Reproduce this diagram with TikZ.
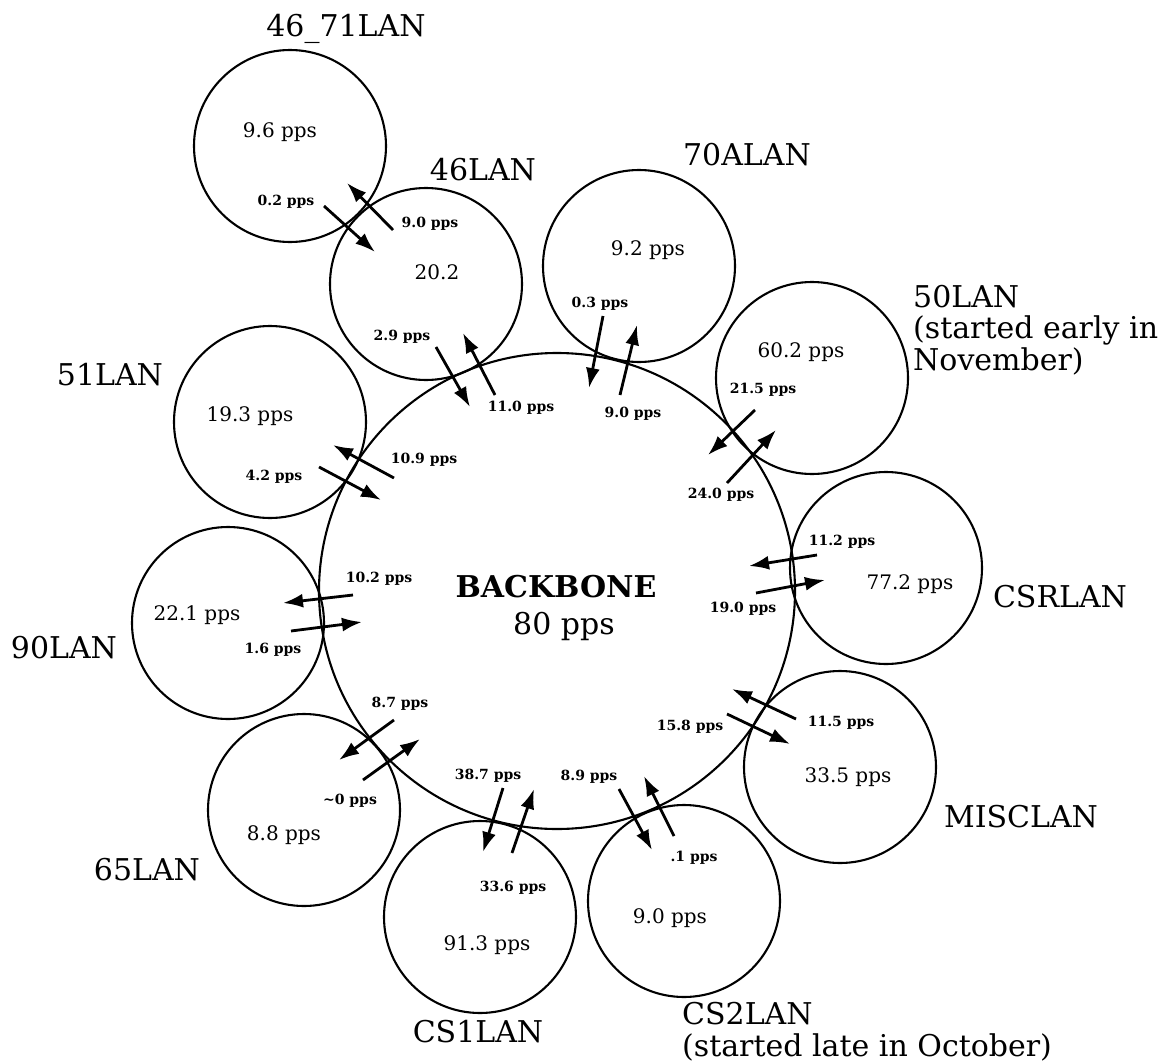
\documentclass[tikz,border=0pt]{standalone}
\usepackage{fontspec}
\setmainfont{DejaVu Serif}
\usetikzlibrary{arrows.meta}
\tikzset{
  lan/.style={draw, circle, line width=2.1pt, minimum size=192pt, inner sep=0pt},
  bbone/.style={draw, circle, line width=2.1pt, minimum size=476pt, inner sep=0pt},
  biglbl/.style={anchor=base, inner sep=0pt, font=\fontsize{30}{31.5}\selectfont},
  rate/.style={anchor=base, inner sep=0pt, font=\fontsize{20}{22}\selectfont},
  flowlbl/.style={anchor=base, inner sep=0pt, font=\fontsize{14}{16}\selectfont\bfseries},
  flow/.style={line width=2.8pt, -{Latex[length=20pt,width=14pt]}}
}
\begin{document}
\begin{tikzpicture}[x=1pt,y=-1pt]
\useasboundingbox (0,0) rectangle (1168,1063);

% circles
\node[bbone] (bb) at (557,591) {};
\node[lan] (c4671) at (290,146) {};
\node[lan] (c46) at (426,284) {};
\node[lan] (c70a) at (639,266) {};
\node[lan] (c50) at (812,378) {};
\node[lan] (c51) at (270,422) {};
\node[lan] (ccsr) at (886,568) {};
\node[lan] (c90) at (228,623) {};
\node[lan] (cmisc) at (840,767) {};
\node[lan] (c65) at (304,810) {};
\node[lan] (ccs1) at (480,917) {};
\node[lan] (ccs2) at (684,901) {};

% LAN names
\node[biglbl] (n4671) at (346,36) {46\_71LAN};
\node[biglbl] (n46) at (483,180) {46LAN};
\node[biglbl] (n70a) at (747,165) {70ALAN};
\node[biglbl, anchor=base west, align=left] (n50) at (913,370) {50LAN\\(started early in\\November)};
\node[biglbl] (n51) at (110,385) {51LAN};
\node[biglbl] (ncsr) at (1060,607) {CSRLAN};
\node[biglbl] (n90) at (64,658) {90LAN};
\node[biglbl] (nmisc) at (1021,827) {MISCLAN};
\node[biglbl] (n65) at (147,880) {65LAN};
\node[biglbl] (ncs1) at (478,1042) {CS1LAN};
\node[biglbl, anchor=base west, align=left] (ncs2) at (682,1056) {CS2LAN\\(started late in October)};

% backbone
\node[biglbl, font=\fontsize{30}{31.5}\selectfont\bfseries] (nbb) at (556,597) {BACKBONE};
\node[biglbl] (rbb) at (564,634) {80 pps};

% rates inside LANs
\node[rate] (r4671) at (280,137) {9.6 pps};
\node[rate] (r46) at (437,279) {20.2};
\node[rate] (r70a) at (648,255) {9.2 pps};
\node[rate] (r50) at (801,357) {60.2 pps};
\node[rate] (r51) at (250,421) {19.3 pps};
\node[rate] (rcsr) at (910,589) {77.2 pps};
\node[rate] (r90) at (197,620) {22.1 pps};
\node[rate] (rmisc) at (848,782) {33.5 pps};
\node[rate] (r65) at (284,840) {8.8 pps};
\node[rate] (rcs1) at (487,950) {91.3 pps};
\node[rate] (rcs2) at (670,923) {9.0 pps};

% arrow end points
\coordinate (a1s) at (393,230); \coordinate (a1e) at (347,183);
\coordinate (a2s) at (324,206); \coordinate (a2e) at (375,252);
\coordinate (a3s) at (436,347); \coordinate (a3e) at (470,407);
\coordinate (a4s) at (495,395); \coordinate (a4e) at (463,333);
\coordinate (a5s) at (603,316); \coordinate (a5e) at (589,388);
\coordinate (a6s) at (620,395); \coordinate (a6e) at (637,325);
\coordinate (a7s) at (755,410); \coordinate (a7e) at (708,455);
\coordinate (a8s) at (727,483); \coordinate (a8e) at (776,430);
\coordinate (a9s) at (394,478); \coordinate (a9e) at (333,445);
\coordinate (a10s) at (319,467); \coordinate (a10e) at (381,500);
\coordinate (a11s) at (817,555); \coordinate (a11e) at (749,566);
\coordinate (a12s) at (756,593); \coordinate (a12e) at (825,580);
\coordinate (a13s) at (353,595); \coordinate (a13e) at (283,603);
\coordinate (a14s) at (291,631); \coordinate (a14e) at (362,622);
\coordinate (a15s) at (796,719); \coordinate (a15e) at (732,689);
\coordinate (a16s) at (727,714); \coordinate (a16e) at (790,744);
\coordinate (a17s) at (394,720); \coordinate (a17e) at (339,760);
\coordinate (a18s) at (363,780); \coordinate (a18e) at (420,739);
\coordinate (a19s) at (503,788); \coordinate (a19e) at (483,852);
\coordinate (a20s) at (512,853); \coordinate (a20e) at (534,789);
\coordinate (a21s) at (619,789); \coordinate (a21e) at (652,850);
\coordinate (a22s) at (674,836); \coordinate (a22e) at (644,776);

\foreach \i in {1,...,22} \draw[flow] (a\i s) -- (a\i e);

% flow labels
\node[flowlbl] (f1) at (430,227) {9.0 pps};
\node[flowlbl] (f2) at (286,205) {0.2 pps};
\node[flowlbl] (f3) at (402,340) {2.9 pps};
\node[flowlbl] (f4) at (521,411) {11.0 pps};
\node[flowlbl] (f5) at (600,307) {0.3 pps};
\node[flowlbl] (f6) at (633,417) {9.0 pps};
\node[flowlbl] (f7) at (763,393) {21.5 pps};
\node[flowlbl] (f8) at (721,498) {24.0 pps};
\node[flowlbl] (f9) at (424,463) {10.9 pps};
\node[flowlbl] (f10) at (274,480) {4.2 pps};
\node[flowlbl] (f11) at (842,545) {11.2 pps};
\node[flowlbl] (f12) at (743,612) {19.0 pps};
\node[flowlbl] (f13) at (379,582) {10.2 pps};
\node[flowlbl] (f14) at (273,653) {1.6 pps};
\node[flowlbl] (f15) at (841,726) {11.5 pps};
\node[flowlbl] (f16) at (690,730) {15.8 pps};
\node[flowlbl] (f17) at (400,707) {8.7 pps};
\node[flowlbl] (f18) at (350,804) {\textasciitilde0 pps};
\node[flowlbl] (f19) at (488,779) {38.7 pps};
\node[flowlbl] (f20) at (513,891) {33.6 pps};
\node[flowlbl] (f21) at (589,780) {8.9 pps};
\node[flowlbl] (f22) at (694,861) {.1 pps};
\end{tikzpicture}
\end{document}
